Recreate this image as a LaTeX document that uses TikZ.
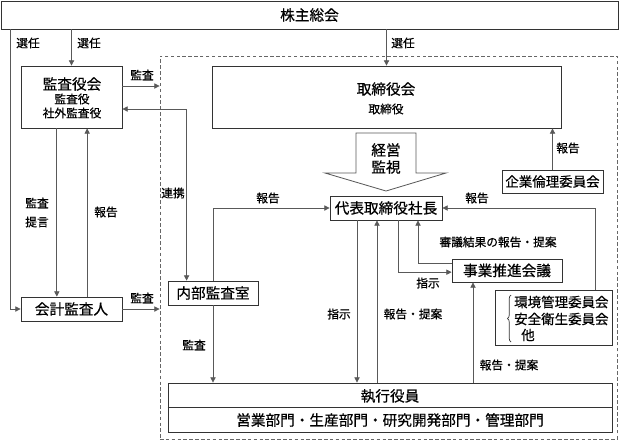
\documentclass[tikz,border=0pt]{standalone}
\usepackage{fontspec}
\setmainfont{Noto Sans CJK JP}[FakeBold=0.6]
\usetikzlibrary{arrows.meta,decorations.pathreplacing}
\tikzset{
    every node/.style={inner sep=0pt, font=\fontsize{12.5}{14}\selectfont}
}
\tikzset{
    box/.style={draw=black!80, line width=.7pt, fill=white},
    lbl/.style={font=\fontsize{10}{12}\selectfont},
    mid/.style={font=\fontsize{11.5}{13}\selectfont}
}
\tikzset{
    arr/.style={draw=black!65, line width=.7pt, -{Triangle[length=4.5pt,width=4.5pt]}},
    rarr/.style={draw=black!65, line width=.7pt, {Triangle[length=4.5pt,width=4.5pt]}-},
    darr/.style={draw=black!65, line width=.7pt,
    	{Triangle[length=4.5pt,width=4.5pt]}-{Triangle[length=4.5pt,width=4.5pt]}}
}

\begin{document}
\begin{tikzpicture}[x=0.03cm, y=-0.03cm]
	\useasboundingbox (0,0) rectangle (621,440);
	% dashed area
	\node (11) [draw=black!60, line width=.7pt, dash pattern=on 3pt off 2pt,
		minimum width=13.71cm, minimum height=11.49cm] at (388.5,247.5) {};
	% boxes
	\node (1) [box, minimum width=18.51cm, minimum height=.84cm] at (309.5,15) {株主総会};
	\node (2) [box, minimum width=3.03cm, minimum height=1.86cm] at (71.5,97) {};
	\node (3) [box, minimum width=10.47cm, minimum height=1.86cm] at (386.5,97) {};
	\node (4) [box, minimum width=3.36cm, minimum height=.72cm] at (386,208) {代表取締役社長};
	\node (5) [box, mid, minimum width=3.03cm, minimum height=.69cm] at (552.5,181.5) {企業倫理委員会};
	\node (6) [box, minimum width=3.3cm, minimum height=.69cm] at (507,270.5) {事業推進会議};
	\node (7) [box, minimum width=3.51cm, minimum height=1.65cm] at (553.5,317.5) {};
	\node (8) [box, minimum width=3.03cm, minimum height=.72cm] at (71.5,309) {会計監査人};
	\node (9) [box, minimum width=2.7cm, minimum height=.72cm] at (213,293) {内部監査室};
	\node (10) [box, minimum width=13.32cm, minimum height=1.47cm] at (390,407.5) {};
	\draw[box] (10.west) -- (10.east);

	% texts in boxes
	\node (t1) at (72,84) {監査役会};
	\node (t2) [lbl] at (72,99) {監査役};
	\node (t3) [lbl] at (72,113) {社外監査役};
	\node (t4) at (386,89) {取締役会};
	\node (t5) [lbl] at (386,109) {取締役};
	\node (t6) [mid, anchor=west] at (514,302) {環境管理委員会};
	\node (t7) [mid, anchor=west] at (514,319) {安全衛生委員会};
	\node (t8) [mid] at (528,335) {他};
	\draw[black!80, line width=.6pt, decorate, decoration={brace, amplitude=3pt}]
		(511,342) -- (511,295);
	\node (t9) at (390,396) {執行役員};
	\node (t10) at (390,420) {営業部門・生産部門・研究開発部門・管理部門};

	% management oversight arrow
	\draw[draw=black!65, line width=.7pt, fill=white] (356,133) -- (416,133) -- (416,173)
		-- (446,173) -- (386,191) -- (325,173) -- (356,173) -- cycle;
	\node (t11) at (386,150) {経営};
	\node (t12) at (386,167) {監視};

	% connectors
	\draw[arr] ([xshift=.3cm]1.south west) |- (8.west);
	\draw[arr] (1.south -| 2) -- (2.north);
	\draw[arr] (1.south -| 3) -- (3.north);
	\draw[arr] ([yshift=.33cm]2.east) coordinate (a1) -- (a1 -| 11.west);
	\draw[darr] ([yshift=-.36cm]2.east) -| ([xshift=.57cm]9.north west);
	\draw[arr] (9.north) |- (4.west);
	\draw[arr] ([xshift=-.44cm]2.south) -- ([xshift=-.44cm]8.north);
	\draw[arr] ([xshift=.47cm]8.north) -- ([xshift=.47cm]2.south);
	\draw[arr] (8.east) -- (8.east -| 11.west);
	\draw[arr] (9.south) -- (9.south |- 10.north);
	\draw[arr] (5.north) -- (5.north |- 3.south);
	\draw[arr] ([xshift=1.25cm]7.north) |- (4.east);
	\draw[arr] ([xshift=-.87cm]4.south) coordinate (a2) -- (a2 |- 10.north);
	\draw[rarr] ([xshift=-.27cm]4.south) coordinate (a3) -- (a3 |- 10.north);
	\draw[arr] ([xshift=.36cm]4.south) |- ([yshift=-.05cm]6.west);
	\draw[arr] ([yshift=.2cm]6.west) -| ([xshift=.96cm]4.south);
	\draw[rarr] ([xshift=-1.02cm]6.south) coordinate (a4) -- (a4 |- 10.north);

	% connector labels
	\node (l1) [lbl] at (28,43) {選任};
	\node (l2) [lbl] at (89,43) {選任};
	\node (l3) [lbl] at (403,43) {選任};
	\node (l4) [lbl] at (142,75) {監査};
	\node (l5) [lbl] at (37,203) {監査};
	\node (l6) [lbl] at (37,222) {提言};
	\node (l7) [lbl] at (106,212) {報告};
	\node (l8) [lbl] at (173,193) {連携};
	\node (l9) [lbl] at (268,198) {報告};
	\node (l10) [lbl] at (142,298) {監査};
	\node (l11) [lbl] at (194,345) {監査};
	\node (l12) [lbl] at (568,148) {報告};
	\node (l13) [lbl] at (477,198) {報告};
	\node (l14) [lbl] at (498,242) {審議結果の報告・提案};
	\node (l15) [lbl] at (428,283) {指示};
	\node (l16) [lbl] at (339,314) {指示};
	\node (l17) [lbl] at (413,314) {報告・提案};
	\node (l18) [lbl] at (509,365) {報告・提案};
\end{tikzpicture}
\end{document}
